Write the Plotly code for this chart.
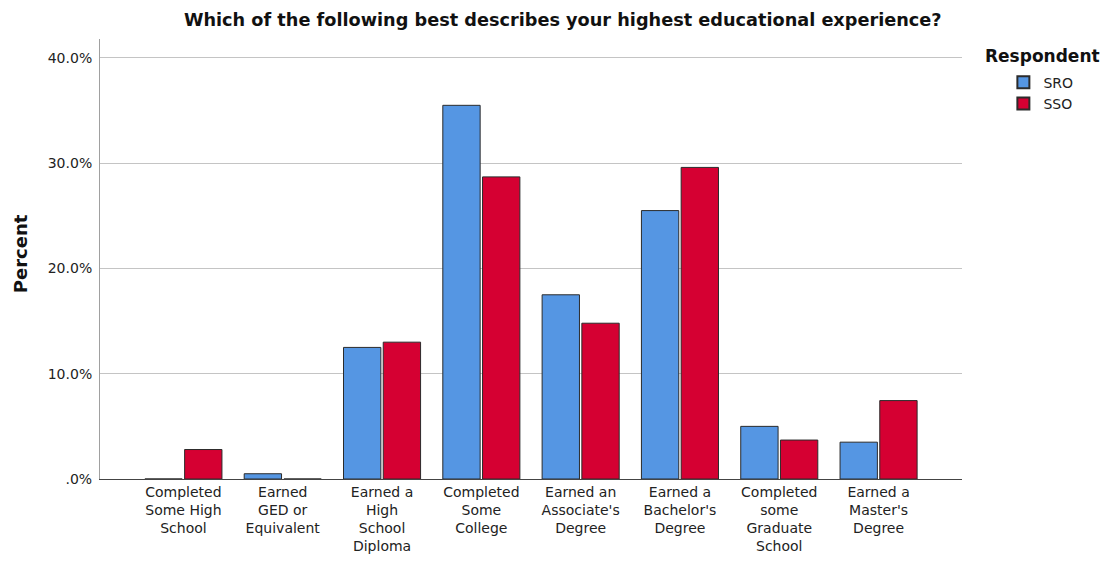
import plotly.graph_objects as go

categories = [
    "Completed<br>Some High<br>School",
    "Earned<br>GED or<br>Equivalent",
    "Earned a<br>High<br>School<br>Diploma",
    "Completed<br>Some<br>College",
    "Earned an<br>Associate's<br>Degree",
    "Earned a<br>Bachelor's<br>Degree",
    "Completed<br>some<br>Graduate<br>School",
    "Earned a<br>Master's<br>Degree",
]
sro = [0.0, 0.5, 12.5, 35.5, 17.5, 25.5, 5.0, 3.5]
sso = [2.8, 0.0, 13.0, 28.7, 14.8, 29.6, 3.7, 7.45]
ytick_vals = [0, 10, 20, 30, 40]
ytick_text = [".0%", "10.0%", "20.0%", "30.0%", "40.0%"]

FONT = "DejaVu Sans"

fig = go.Figure()
fig.add_trace(go.Bar(x=categories, y=sro, name="SRO",
                     marker=dict(color="#5596E3", line=dict(color="#2b2b2b", width=1))))
fig.add_trace(go.Bar(x=categories, y=sso, name="SSO",
                     marker=dict(color="#D50032", line=dict(color="#2b2b2b", width=1))))

fig.update_layout(
    width=1110, height=561,
    margin=dict(l=100, r=148, t=39, b=82, autoexpand=False),
    paper_bgcolor="white", plot_bgcolor="white",
    barmode="group", bargap=0.2, bargroupgap=0.06,
    font=dict(family=FONT, size=14, color="#222222"),
    title=dict(text="<b>Which of the following best describes your highest educational experience?</b>",
               x=0.507, xanchor="center", y=0.964, yanchor="middle",
               font=dict(family=FONT, size=17.7, color="#111111")),
    showlegend=True,
    legend=dict(x=1.048, xanchor="left", y=0.937, yanchor="top",
                font=dict(family=FONT, size=14, color="#222222"),
                tracegroupgap=0, itemsizing="constant",
                bgcolor="rgba(0,0,0,0)"),
    annotations=[
        dict(text="<b>Respondent</b>", xref="paper", yref="paper",
             x=1.0244, y=0.961, xanchor="left", yanchor="middle", showarrow=False,
             font=dict(family=FONT, size=17, color="#111111")),
        dict(text="<b>Percent</b>", xref="paper", yref="paper",
             x=-0.0928, y=0.511, xanchor="center", yanchor="middle", showarrow=False,
             textangle=-90, font=dict(family=FONT, size=18, color="#111111")),
    ],
)

fig.update_xaxes(
    type="category", range=[-0.84, 7.84],
    showline=True, linecolor="#444444", linewidth=1,
    showgrid=False, ticks="", tickfont=dict(family=FONT, size=14, color="#222222"),
    fixedrange=True,
)
fig.update_yaxes(
    range=[0, 41.8], tickvals=ytick_vals, ticktext=ytick_text,
    showline=True, linecolor="#a0a0a0", linewidth=1,
    showgrid=True, gridcolor="#c4c4c4", gridwidth=1, zeroline=False,
    ticks="", ticklabelstandoff=4,
    tickfont=dict(family=FONT, size=14, color="#222222"),
    fixedrange=True,
)

fig.write_html("out.html", config={"displayModeBar": False},
               post_script="document.body.style.margin='0';")
